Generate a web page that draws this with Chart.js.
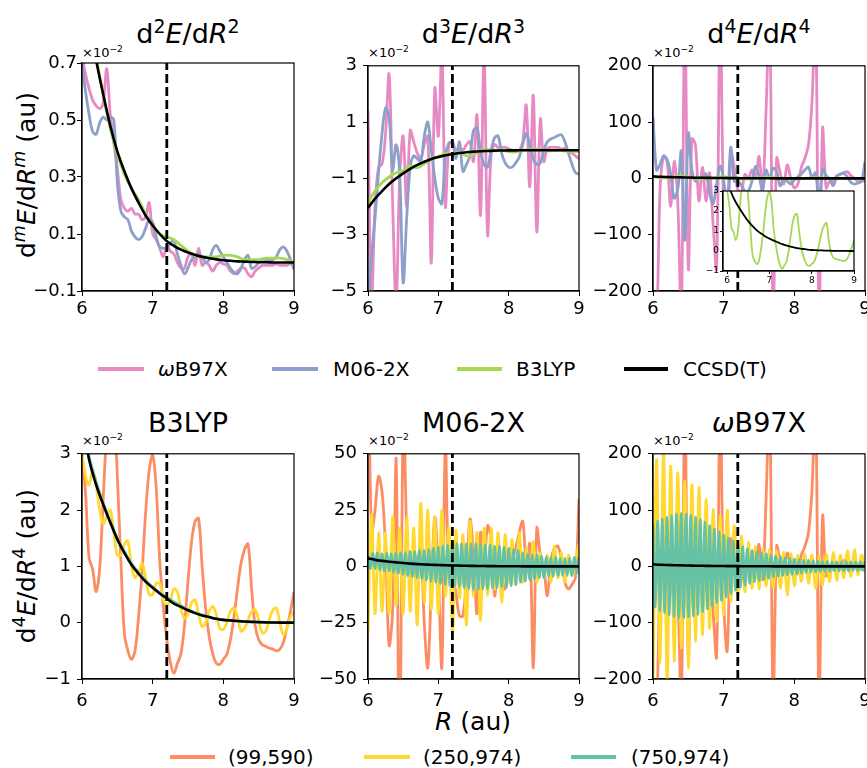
<!DOCTYPE html>
<html>
<head>
<meta charset="utf-8">
<script src="https://cdn.jsdelivr.net/npm/chart.js@4.4.0/dist/chart.umd.min.js"></script>
<style>
body { margin: 0; background: #fff; }
#fig { position: relative; width: 867px; height: 768px; overflow: hidden; background: #fff;
       font-family: 'DejaVu Sans', sans-serif; color: #000; }
#fig canvas { position: absolute; }
.txt { position: absolute; white-space: nowrap; line-height: 1; }
.title { font-size: 27px; text-align: center; }
.off { font-size: 13px; }
.ylab { font-size: 25px; transform: translate(-50%, -50%) rotate(-90deg); }
.xlab { font-size: 25px; transform: translateX(-50%); }
.leg { font-size: 20px; line-height: 20px; }
.legline { position: absolute; height: 3.5px; }
sup { font-size: 0.7em; line-height: 0; position: relative; top: -0.55em; vertical-align: baseline; }
</style>
</head>
<body>
<div id="fig">
  <div class="txt title" style="left:82px;top:20px;width:212px">d<sup>2</sup><i>E</i>/d<i>R</i><sup>2</sup></div>
  <div class="txt title" style="left:368px;top:20px;width:211px">d<sup>3</sup><i>E</i>/d<i>R</i><sup>3</sup></div>
  <div class="txt title" style="left:653px;top:20px;width:212px">d<sup>4</sup><i>E</i>/d<i>R</i><sup>4</sup></div>
  <div class="txt title" style="left:82px;top:409px;width:212px">B3LYP</div>
  <div class="txt title" style="left:368px;top:409px;width:211px">M06-2X</div>
  <div class="txt title" style="left:653px;top:409px;width:212px"><i>ω</i>B97X</div>

  <div class="txt off" style="left:82px;top:46px">×10<sup>−2</sup></div>
  <div class="txt off" style="left:368px;top:46px">×10<sup>−2</sup></div>
  <div class="txt off" style="left:653px;top:46px">×10<sup>−2</sup></div>
  <div class="txt off" style="left:82px;top:434px">×10<sup>−2</sup></div>
  <div class="txt off" style="left:368px;top:434px">×10<sup>−2</sup></div>
  <div class="txt off" style="left:653px;top:434px">×10<sup>−2</sup></div>

  <div class="txt ylab" style="left:26px;top:175px">d<sup><i>m</i></sup><i>E</i>/d<i>R</i><sup><i>m</i></sup> (au)</div>
  <div class="txt ylab" style="left:26px;top:566px">d<sup>4</sup><i>E</i>/d<i>R</i><sup>4</sup> (au)</div>
  <div class="txt xlab" style="left:473px;top:709px"><i>R</i> (au)</div>

  <div class="legline" style="left:98px;top:367px;width:46px;background:#e78ac3"></div>
  <div class="txt leg" style="left:158px;top:359px"><i>ω</i>B97X</div>
  <div class="legline" style="left:272px;top:367px;width:46px;background:#8da0cb"></div>
  <div class="txt leg" style="left:333px;top:359px">M06-2X</div>
  <div class="legline" style="left:457px;top:367px;width:45px;background:#a6d854"></div>
  <div class="txt leg" style="left:516px;top:359px">B3LYP</div>
  <div class="legline" style="left:624px;top:367px;width:44px;background:#000"></div>
  <div class="txt leg" style="left:683px;top:359px">CCSD(T)</div>

  <div class="legline" style="left:170px;top:755px;width:45px;background:#fc8d62"></div>
  <div class="txt leg" style="left:228px;top:747px">(99,590)</div>
  <div class="legline" style="left:364px;top:755px;width:46px;background:#ffd92f"></div>
  <div class="txt leg" style="left:423px;top:747px">(250,974)</div>
  <div class="legline" style="left:571px;top:755px;width:45px;background:#66c2a5"></div>
  <div class="txt leg" style="left:631px;top:747px">(750,974)</div>
</div>
<script>
// R grids (au)
const rCoarse = [6.0, 6.1, 6.2, 6.3, 6.4, 6.5, 6.6, 6.7, 6.8, 6.9,
  7.0, 7.1, 7.2, 7.3, 7.4, 7.5, 7.6, 7.7, 7.8, 7.9,
  8.0, 8.1, 8.2, 8.3, 8.4, 8.5, 8.6, 8.7, 8.8, 8.9,
  9.0];
const rFine = [6.00, 6.05, 6.10, 6.15, 6.20, 6.25, 6.30, 6.35, 6.40, 6.45,
  6.50, 6.55, 6.60, 6.65, 6.70, 6.75, 6.80, 6.85, 6.90, 6.95,
  7.00, 7.05, 7.10, 7.15, 7.20, 7.25, 7.30, 7.35, 7.40, 7.45,
  7.50, 7.55, 7.60, 7.65, 7.70, 7.75, 7.80, 7.85, 7.90, 7.95,
  8.00, 8.05, 8.10, 8.15, 8.20, 8.25, 8.30, 8.35, 8.40, 8.45,
  8.50, 8.55, 8.60, 8.65, 8.70, 8.75, 8.80, 8.85, 8.90, 8.95,
  9.00];
const rDense = [6.000, 6.033, 6.067, 6.100, 6.133, 6.167, 6.200, 6.233, 6.267, 6.300,
  6.333, 6.367, 6.400, 6.433, 6.467, 6.500, 6.533, 6.567, 6.600, 6.633,
  6.667, 6.700, 6.733, 6.767, 6.800, 6.833, 6.867, 6.900, 6.933, 6.967,
  7.000, 7.033, 7.067, 7.100, 7.133, 7.167, 7.200, 7.233, 7.267, 7.300,
  7.333, 7.367, 7.400, 7.433, 7.467, 7.500, 7.533, 7.567, 7.600, 7.633,
  7.667, 7.700, 7.733, 7.767, 7.800, 7.833, 7.867, 7.900, 7.933, 7.967,
  8.000, 8.033, 8.067, 8.100, 8.133, 8.167, 8.200, 8.233, 8.267, 8.300,
  8.333, 8.367, 8.400, 8.433, 8.467, 8.500, 8.533, 8.567, 8.600, 8.633,
  8.667, 8.700, 8.733, 8.767, 8.800, 8.833, 8.867, 8.900, 8.933, 8.967,
  9.000];
const rEq = 7.2; // dashed reference line

// d2E/dR2 (x1e-2 au)
const ccsdD2 = [1.0, 0.85, 0.71, 0.59, 0.48, 0.39, 0.32, 0.26, 0.21, 0.165,
  0.13, 0.1, 0.075, 0.058, 0.045, 0.035, 0.027, 0.02, 0.015, 0.011,
  0.008, 0.006, 0.004, 0.003, 0.002, 0.001, 0.001, 0, 0, 0,
  0];
const b3lypD2 = [1.0, 0.86, 0.72, 0.59, 0.47, 0.38, 0.31, 0.26, 0.22, 0.17,
  0.13, 0.1, 0.09, 0.08, 0.06, 0.04, 0.025, 0.02, 0.02, 0.02,
  0.025, 0.025, 0.02, 0.01, 0.01, 0.01, 0.015, 0.015, 0.015, 0.01,
  0.0];
const m06D2 = [0.70, 0.60, 0.52, 0.46, 0.45, 0.49, 0.51, 0.50, 0.51, 0.50,
  0.28, 0.18, 0.16, 0.15, 0.11, 0.09, 0.08, 0.09, 0.12, 0.15,
  0.14, 0.09, 0.055, 0.05, 0.05, 0.07, 0.075, 0.03, -0.01, -0.04,
  -0.02, 0.01, 0.02, 0.03, 0.02, 0.0, 0.01, 0.045, 0.06, 0.04,
  0.02, 0.0, -0.02, -0.035, -0.04, -0.02, 0.01, 0.025, -0.02, -0.015,
  0.0, 0.01, 0.01, 0.01, 0.01, 0.02, 0.045, 0.055, 0.04, 0.01,
  -0.025];
const wb97xD2 = [0.72, 0.66, 0.61, 0.57, 0.55, 0.54, 0.56, 0.68, 0.52, 0.42,
  0.33, 0.22, 0.19, 0.18, 0.19, 0.17, 0.17, 0.15, 0.16, 0.21,
  0.10, 0.08, 0.05, 0.02, 0.06, 0.04, 0.03, 0.0, -0.02, -0.02,
  0.02, 0.03, -0.01, 0.05, -0.01, 0.0, -0.01, -0.03, -0.01, 0.0,
  -0.005, -0.01, -0.03, -0.04, -0.03, -0.02, -0.02, -0.04, -0.05, -0.03,
  -0.02, -0.01, -0.01, -0.01, -0.01, -0.005, -0.01, -0.01, -0.01, -0.005,
  -0.01];

// d3E/dR3 (x1e-2 au)
const ccsdD3 = [-2.05, -1.72, -1.45, -1.2, -1.0, -0.82, -0.66, -0.52, -0.41, -0.31,
  -0.24, -0.18, -0.14, -0.1, -0.07, -0.05, -0.035, -0.025, -0.015, -0.01,
  -0.005, -0.003, 0, 0, 0, 0, 0, 0, 0, 0,
  0];
const b3lypD3 = [-1.85, -1.45, -1.15, -0.95, -0.8, -0.72, -0.55, -0.62, -0.48, -0.32,
  -0.22, -0.12, -0.12, -0.08, -0.2, -0.15, 0.0, 0.02, -0.02, 0.0,
  -0.05, -0.06, 0.0, 0.02, 0.05, 0.0, -0.02, 0.0, -0.03, -0.04,
  -0.05];
const m06D3 = [-5.5, -3.8, -2.4, -0.8, 0.6, 1.5, 1.2, -0.7, 0.2, -0.8,
  -4.7, -2.4, -0.6, -0.2, -0.3, -0.4, 0.5, 1.0, 0.0, -1.0,
  -1.7, -1.9, -0.2, 0.25, 0.3, -0.3, 0.3, -0.75, -0.5, -0.2,
  0.7, 0.8, -0.05, -0.5, -0.6, 0.0, 0.45, 0.5, -0.1, -0.45,
  -0.6, -0.6, -0.45, -0.25, 0.2, 0.6, 0.2, -0.3, -0.5, -0.45,
  0.0, 0.3, 0.4, 0.45, 0.52, 0.55, 0.3, -0.1, -0.5, -0.8,
  -0.85];
const wb97xD3 = [1.4, -5.5, -2.0, -0.6, -0.5, 0.6, 2.7, -1.8, -5.5, -1.0,
  0.5, -2.0, 0.7, 0.3, -0.1, -0.3, 0.2, 0.5, -4.0, 2.2,
  0.5, 3.5, -2.0, 0.2, 0.3, 0.0, 0.1, 0.0, 0.2, 0.3,
  -0.4, 1.25, -2.3, 3.5, -3.0, -0.2, 0.2, 0.1, 0.1, 0.1,
  0.05, 0.0, 0.0, 0.0, 0.3, 1.6, -1.3, 1.95, -2.9, 1.1,
  -0.4, 0.07, 0.1, 0.1, 0.1, 0.05, 0.07, 0.0, -0.1, -0.2,
  -0.3];

// d4E/dR4 (x1e-2 au); default (99,590) grid
const ccsdD4 = [3.6, 2.9, 2.45, 2.1, 1.78, 1.48, 1.24, 1.03, 0.87, 0.73,
  0.62, 0.52, 0.43, 0.34, 0.28, 0.22, 0.17, 0.13, 0.1, 0.07,
  0.05, 0.04, 0.03, 0.02, 0.015, 0.01, 0.006, 0.004, 0.002, 0.001,
  0];
const b3lypD4 = [3.0, 2.3, 1.15, 0.95, 0.55, 0.96, 2.2, 3.4, 4.0, 3.8,
  2.6, 1.1, -0.2, -0.5, -0.65, -0.5, 0.1, 0.9, 1.95, 2.7,
  2.98, 2.4, 1.1, 0.3, -0.3, -0.7, -0.9, -0.72, -0.55, -0.05,
  0.73, 1.43, 1.8, 1.85, 1.0, 0.25, -0.25, -0.55, -0.72, -0.74,
  -0.65, -0.56, -0.3, 0.1, 0.6, 1.05, 1.3, 1.4, 0.6, -0.05,
  -0.3, -0.39, -0.42, -0.45, -0.47, -0.5, -0.47, -0.35, -0.09, 0.2,
  0.55];
const m06D4 = [110, 15, 25, 40, 33, 8, -35, -20, 48, -110,
  80, 15, -5, 0, 2, 8, -25, -45, -10, 22,
  -4, -45, 55, -5, -5, -12, -22, -22, -5, 21,
  5, -21, 15, 0, 18, 12, -13, -2, -5, -10,
  -3, 3, 8, 15, 20, 2, 10, -45, 17, 5,
  -1, -13, 3, 8, 9, 3, -7, -10, -8, -5,
  30];
const wb97xD4 = [-250, -250, -20, 40, 30, -50, 30, -40, -250, 300,
  -160, 70, 60, -40, 20, -40, 10, -80, -160, 300,
  -60, -150, 48, 20, -20, -25, 7, 0, 15, 0,
  39, -23, 120, 300, -250, 36, 10, -10, 24, 0,
  -17, -10, 20, 36, 60, 136, 300, -250, 89, -17,
  -5, -5, 5, 7, 10, 12, 5, 0, -5, -5,
  -5];

// d4E/dR4 on the (250,974) grid
const b3lypD4g250 = [3.0, 2.6, 2.45, 2.7, 2.45, 2.0, 1.75, 1.9, 2.0, 1.6,
  1.2, 1.2, 1.4, 1.45, 1.0, 0.8, 0.9, 1.05, 0.8, 0.5,
  0.5, 0.7, 0.7, 0.4, 0.32, 0.4, 0.6, 0.55, 0.25, 0.08,
  0.15, 0.35, 0.4, 0.15, -0.07, 0.0, 0.2, 0.29, 0.15, -0.1,
  -0.12, 0.0, 0.2, 0.26, 0.1, -0.15, -0.1, 0.05, 0.2, 0.23,
  0.05, -0.18, -0.15, 0.05, 0.22, 0.26, 0.0, -0.21, -0.1, 0.1,
  0.2];
const m06D4g250 = [-30, 23, -21, 15, -20, 15, -21, 22, -17, 17,
  -21, 22, -20, 17, -26, 28, -16, 25, -19, 22,
  -21, 25, -13, 17, -30, 16, -14, 14, -26, 20,
  -13, 15, -24, 17, -13, 17, -10, 15, -16, 14,
  -7, 12, -8, 15, -7, 8, -5, 11, -7, 6,
  -5, 5, -7, 9, -5, 6, -7, 5, -4, 3,
  10];
const wb97xD4g250 = [-210, 190, -170, 205, -210, 178, -168, 166, -145, 151,
  -180, 145, -133, 140, -121, 119, -110, 101, -98, 90,
  -86, 100, -62, 72, -51, 54, -45, 43, -39, 35,
  -40, 31, -35, 30, -38, 28, -39, 25, -51, 22,
  -35, 20, -27, 22, -30, 20, -39, 18, -33, 22,
  -27, 25, -25, 20, -20, 28, -18, 30, -15, 20,
  -10];

// d4E/dR4 on the (750,974) grid
const b3lypD4g750 = [3.6, 2.95, 2.5, 2.12, 1.8, 1.5, 1.26, 1.05, 0.89, 0.75,
  0.63, 0.53, 0.45, 0.37, 0.3, 0.23, 0.18, 0.14, 0.1, 0.07,
  0.05, 0.04, 0.03, 0.02, 0.015, 0.01, 0.006, 0.004, 0.002, 0.001,
  0];
const m06D4g750 = [5, -1, 6, -1, 6, -1.5, 5.5, -2, 6, -2,
  5.5, -2.5, 6, -3, 6, -3.5, 6, -4, 6.5, -4.5,
  6.5, -5, 7, -5.5, 7, -6, 7.5, -6.5, 8, -7,
  8.5, -7.5, 9, -8, 9.5, -8.5, 10.5, -8.5, 10, -9,
  10, -9.5, 10, -10, 10, -10.5, 10, -10, 9.5, -10,
  9.5, -10, 9.5, -9.5, 9, -9.5, 9, -9, 8.5, -9,
  8, -8.5, 7.5, -8, 7, -7, 6, -6.5, 5.5, -6,
  5, -5.5, 5, -5, 4.5, -5, 4, -4.5, 4, -4.5,
  4, -4, 3.5, -4, 3.5, -4, 3.5, -4, 4, -3,
  4];
const wb97xD4g750 = [75, -72, 80, -78, 84, -82, 87, -86, 90, -89,
  93, -91, 94, -91, 93, -90, 90, -88, 87, -85,
  83, -80, 78, -75, 72, -70, 66, -64, 61, -60,
  55, -54, 50, -48, 45, -42, 38, -37, 35, -33,
  31, -30, 28, -27, 26, -25, 24, -23, 22, -21,
  20, -19, 18, -17, 17, -16, 15, -15, 14, -14,
  13, -13, 12, -12, 11, -11, 11, -10, 10, -10,
  10, -9, 9, -9, 9, -9, 8, -8, 8, -8,
  8, -8, 8, -8, 8, -7, 8, -7, 8, -7,
  8];

// axis limits and ticks
const xLim = [6, 9];
const xTicks = [6, 7, 8, 9];
const yLimD2 = [-0.1, 0.7], yTicksD2 = [-0.1, 0.1, 0.3, 0.5, 0.7];
const yLimD3 = [-5, 3], yTicksD3 = [-5, -3, -1, 1, 3];
const yLimD4 = [-200, 200], yTicksD4 = [-200, -100, 0, 100, 200];
const yLimB3 = [-1, 3], yTicksB3 = [-1, 0, 1, 2, 3];
const yLimM06 = [-50, 50], yTicksM06 = [-50, -25, 0, 25, 50];
const xLimInset = [5.9, 9.0];

const PINK = '#e78ac3', BLUE = '#8da0cb', GREEN = '#a6d854';
const ORANGE = '#fc8d62', YELLOW = '#ffd92f', TEAL = '#66c2a5';

Chart.defaults.font.family = "'DejaVu Sans', sans-serif";
Chart.defaults.color = '#000';

const fig = document.getElementById('fig');
const fmt = v => String(v).replace('-', '\u2212');

const toPoints = (xs, ys) => xs.map((x, i) => ({ x: x, y: ys[i] }));

const line = (xs, ys, color, width, order) => ({
    data: toPoints(xs, ys),
    borderColor: color,
    borderWidth: width,
    order: order,
    pointRadius: 0,
    fill: false,
    tension: 0.35,
    clip: 0
});

const dashed = (yLim) => ({
    data: toPoints([rEq, rEq], yLim),
    borderColor: '#000',
    borderWidth: 2.8,
    borderDash: [9, 4],
    order: -1,
    pointRadius: 0,
    tension: 0,
    clip: 0
});

// axes box on all four sides, white face for the inset
const framePlugin = {
    id: 'frame',
    beforeDraw(chart, args, opts) {
        if (!opts.face) return;
        const { ctx, chartArea: a } = chart;
        ctx.save();
        ctx.fillStyle = opts.face;
        ctx.fillRect(a.left, a.top, a.right - a.left, a.bottom - a.top);
        ctx.restore();
    },
    afterDatasetsDraw(chart) {
        const { ctx, chartArea: a } = chart;
        ctx.save();
        ctx.strokeStyle = '#000';
        ctx.lineWidth = 1.2;
        ctx.strokeRect(a.left, a.top, a.right - a.left, a.bottom - a.top);
        ctx.restore();
    }
};

const firstSize = { yw: 72, xh: 34, pt: 14, pr: 14, font: 18, tick: 5, xpad: 3, ypad: 0 };
const topSize = { yw: 72, xh: 34, pt: 14, pr: 14, font: 18, tick: 5, xpad: 3, ypad: 6 };
const bottomSize = { yw: 72, xh: 34, pt: 14, pr: 14, font: 18, tick: 5, xpad: 7, ypad: 6 };
const insetSize = { yw: 24, xh: 16, pt: 7, pr: 7, font: 9, tick: 3, xpad: 1, ypad: 1 };

function makePanel(box, xl, yl, xt, yt, datasets, sz, face) {
    const cv = document.createElement('canvas');
    const w = sz.yw + box.w + sz.pr, h = sz.pt + box.h + sz.xh;
    cv.width = w;
    cv.height = h;
    cv.style.width = w + 'px';
    cv.style.height = h + 'px';
    cv.style.left = (box.x - sz.yw) + 'px';
    cv.style.top = (box.y - sz.pt) + 'px';
    fig.appendChild(cv);

    const grid = { display: true, drawOnChartArea: false, drawTicks: true, tickLength: sz.tick, color: '#000', lineWidth: 1 };
    const border = { display: true, color: '#000', width: 1.2 };

    return new Chart(cv, {
        type: 'line',
        data: { datasets: datasets },
        plugins: [framePlugin],
        options: {
            responsive: false,
            animation: false,
            devicePixelRatio: 1,
            layout: { padding: { top: sz.pt, right: sz.pr, left: 0, bottom: 0 } },
            plugins: { legend: { display: false }, tooltip: { enabled: false }, frame: { face: face } },
            scales: {
                x: {
                    type: 'linear', min: xl[0], max: xl[1],
                    afterBuildTicks: s => { s.ticks = xt.map(v => ({ value: v })); },
                    afterFit: s => { s.height = sz.xh; },
                    grid: grid, border: border,
                    ticks: { font: { size: sz.font }, color: '#000', padding: sz.xpad, maxRotation: 0, autoSkip: false, callback: fmt }
                },
                y: {
                    type: 'linear', min: yl[0], max: yl[1],
                    afterBuildTicks: s => { s.ticks = yt.map(v => ({ value: v })); },
                    afterFit: s => { s.width = sz.yw; },
                    grid: grid, border: border,
                    ticks: { font: { size: sz.font }, color: '#000', padding: sz.ypad, autoSkip: false, callback: fmt }
                }
            }
        }
    });
}

const colX = [82, 368, 653], colW = [212, 211, 212];
const rowY = [63, 451], rowH = 228;
const box = (c, r) => ({ x: colX[c], y: rowY[r], w: colW[c], h: rowH });

// top row: derivatives by method
makePanel(box(0, 0), xLim, yLimD2, xTicks, yTicksD2, [
    dashed(yLimD2),
    line(rCoarse, ccsdD2, '#000', 2.6, 0),
    line(rCoarse, b3lypD2, GREEN, 2.8, 1),
    line(rFine, m06D2, BLUE, 2.8, 2),
    line(rFine, wb97xD2, PINK, 2.8, 3)
], firstSize);

makePanel(box(1, 0), xLim, yLimD3, xTicks, yTicksD3, [
    dashed(yLimD3),
    line(rCoarse, ccsdD3, '#000', 2.6, 0),
    line(rCoarse, b3lypD3, GREEN, 2.8, 1),
    line(rFine, m06D3, BLUE, 2.8, 2),
    line(rFine, wb97xD3, PINK, 2.8, 3)
], topSize);

makePanel(box(2, 0), xLim, yLimD4, xTicks, yTicksD4, [
    dashed(yLimD4),
    line(rCoarse, ccsdD4, '#000', 2.6, 0),
    line(rFine, b3lypD4, GREEN, 2.8, 1),
    line(rFine, m06D4, BLUE, 2.8, 2),
    line(rFine, wb97xD4, PINK, 2.8, 3)
], topSize);

// inset: B3LYP d4 close-up
makePanel({ x: 723, y: 191, w: 131, h: 80 }, xLimInset, yLimB3, xTicks, yTicksB3, [
    line(rCoarse, ccsdD4, '#000', 1.8, 0),
    line(rFine, b3lypD4, GREEN, 1.8, 1)
], insetSize, '#fff');

// bottom row: d4 by grid
makePanel(box(0, 1), xLim, yLimB3, xTicks, yTicksB3, [
    dashed(yLimB3),
    line(rCoarse, ccsdD4, '#000', 2.6, 0),
    line(rCoarse, b3lypD4g750, TEAL, 2.8, 1),
    line(rFine, b3lypD4g250, YELLOW, 2.8, 2),
    line(rFine, b3lypD4, ORANGE, 2.8, 3)
], bottomSize);

makePanel(box(1, 1), xLim, yLimM06, xTicks, yTicksM06, [
    dashed(yLimM06),
    line(rCoarse, ccsdD4, '#000', 2.6, 0),
    line(rDense, m06D4g750, TEAL, 2.8, 1),
    line(rFine, m06D4g250, YELLOW, 2.8, 2),
    line(rFine, m06D4, ORANGE, 2.8, 3)
], bottomSize);

makePanel(box(2, 1), xLim, yLimD4, xTicks, yTicksD4, [
    dashed(yLimD4),
    line(rCoarse, ccsdD4, '#000', 2.6, 0),
    line(rDense, wb97xD4g750, TEAL, 2.8, 1),
    line(rFine, wb97xD4g250, YELLOW, 2.8, 2),
    line(rFine, wb97xD4, ORANGE, 2.8, 3)
], bottomSize);
</script>
</body>
</html>
